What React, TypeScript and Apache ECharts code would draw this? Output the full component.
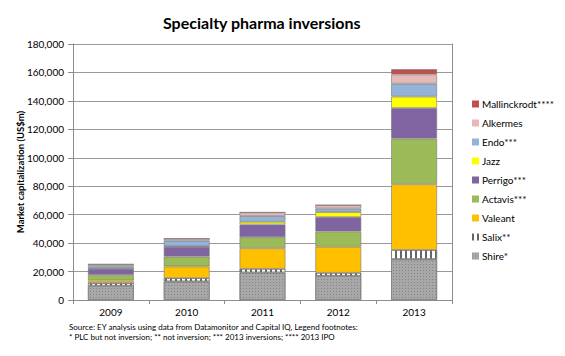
import React, { useEffect, useRef } from "react";
import * as echarts from "echarts";

const years = ["2009", "2010", "2011", "2012", "2013"];
const shire = [10000, 13000, 19300, 17000, 28700];
const salix = [1900, 2400, 2600, 2100, 6500];
const valeant = [1800, 8200, 14500, 18400, 46200];
const actavis = [4000, 6900, 7800, 10700, 32100];
const perrigo = [4200, 6900, 8900, 10100, 21500];
const jazz = [200, 300, 1900, 3500, 8000];
const endo = [1600, 4000, 4000, 2500, 9100];
const alkermes = [1400, 1500, 2600, 2400, 6500];
const mallinckrodt = [0, 0, 0, 0, 3700];

const seriesDefs = [
  { name: "Shire*", data: shire, color: "#a8a8a8" },
  { name: "Salix**", data: salix, color: "#ffffff" },
  { name: "Valeant", data: valeant, color: "#ffc000" },
  { name: "Actavis***", data: actavis, color: "#9bbb59" },
  { name: "Perrigo***", data: perrigo, color: "#8064a2" },
  { name: "Jazz", data: jazz, color: "#ffff00" },
  { name: "Endo***", data: endo, color: "#95b3d7" },
  { name: "Alkermes", data: alkermes, color: "#e6b9b8" },
  { name: "Mallinckrodt****", data: mallinckrodt, color: "#c0504d" },
];

const FONT = "Lato";

export default function App() {
  const ref = useRef<HTMLDivElement>(null);
  useEffect(() => {
    if (!ref.current) return;
    const chart = echarts.init(ref.current, null, { renderer: "svg" });
    const series = seriesDefs.map((s) => {
      const itemStyle: any = {
        color: s.color,
        borderColor: "rgba(120,120,120,0.75)",
        borderWidth: 0.8,
      };
      if (s.name === "Salix**") {
        itemStyle.decal = {
          symbol: "rect",
          symbolSize: 1,
          dashArrayX: [1.5, 2.5],
          dashArrayY: [10, 0],
          color: "#666666",
        };
      }
      if (s.name === "Shire*") {
        itemStyle.decal = {
          symbol: "rect",
          symbolSize: 1,
          dashArrayX: [1, 2],
          dashArrayY: [1, 2],
          color: "rgba(90,90,90,0.45)",
        };
      }
      return {
        name: s.name,
        type: "bar",
        stack: "total",
        data: s.data,
        barWidth: 46,
        itemStyle,
        emphasis: { disabled: true },
      };
    });
    chart.setOption({
      animation: false,
      textStyle: { fontFamily: FONT },
      title: {
        text: "Specialty pharma inversions",
        left: 158,
        top: 9,
        textStyle: { fontFamily: FONT, fontSize: 16, fontWeight: "bold", color: "#000" },
      },
      legend: {
        orient: "vertical",
        left: 467,
        top: 93,
        itemWidth: 7,
        itemHeight: 7,
        itemGap: 7,
        icon: "rect",
        data: seriesDefs.map((s) => s.name).reverse(),
        textStyle: { fontFamily: FONT, fontSize: 10, color: "#000", lineHeight: 12, padding: [0, 0, 0, -2] },
        itemStyle: { borderWidth: 0 },
      },
      grid: { left: 73, right: 113, top: 44, bottom: 56, containLabel: false },
      xAxis: {
        type: "category",
        data: years,
        axisLine: { lineStyle: { color: "#8c8c8c", width: 1 } },
        axisTick: { show: true, alignWithLabel: false, length: 4, lineStyle: { color: "#8c8c8c" } },
        axisLabel: { fontFamily: FONT, fontSize: 10, color: "#000", margin: 7 },
      },
      yAxis: [
        {
          type: "value",
          min: 0,
          max: 180000,
          interval: 20000,
          name: "Market capitalization (US$m)",
          nameLocation: "middle",
          nameGap: 48,
          nameMoveOverlap: false,
          nameTextStyle: { fontFamily: FONT, fontSize: 9.5, fontWeight: "bold", color: "#000" },
          axisLine: { show: true, lineStyle: { color: "#8c8c8c", width: 1 } },
          axisTick: { show: true, length: 5, lineStyle: { color: "#8c8c8c" } },
          splitLine: { show: true, lineStyle: { color: "#9a9a9a", width: 1 } },
          axisLabel: {
            fontFamily: FONT,
            fontSize: 10,
            color: "#000",
            margin: 9,
            formatter: (v: number) => v.toLocaleString("en-US"),
          },
        },
        {
          type: "value",
          position: "right",
          min: 0,
          max: 180000,
          interval: 20000,
          axisLine: { show: true, lineStyle: { color: "#8c8c8c", width: 1 } },
          axisTick: { show: false },
          axisLabel: { show: false },
          splitLine: { show: false },
        },
      ],
      graphic: [
        {
          type: "text",
          left: 69,
          top: 322,
          style: {
            text: "Source: EY analysis using data from Datamonitor and Capital IQ, Legend footnotes:\n* PLC but not inversion; ** not inversion; *** 2013 inversions; **** 2013 IPO",
            fontFamily: FONT,
            fontSize: 8,
            lineHeight: 10,
            fill: "#000",
          },
        },
      ],
      series,
    });
    return () => chart.dispose();
  }, []);
  return (
    <div
      ref={ref}
      style={{ position: "fixed", left: 0, top: 0, width: 565, height: 356, background: "#fff" }}
    />
  );
}
